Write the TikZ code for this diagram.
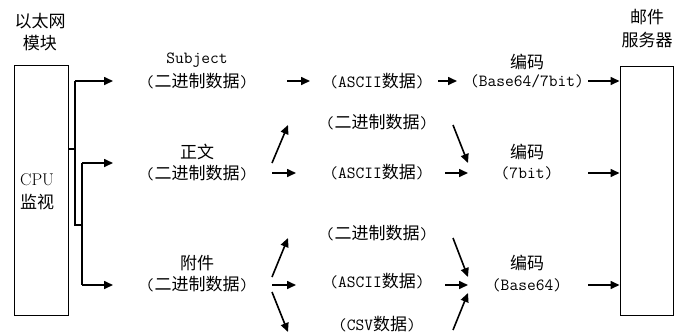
\documentclass[tikz,border=0pt]{standalone}
\usepackage{fontspec}
\newfontfamily\cjk{Noto Sans CJK SC}
\newcommand{\zh}[1]{{\cjk\fontsize{17}{20}\selectfont #1}}
\usetikzlibrary{arrows.meta}
\begin{document}
\begin{tikzpicture}[x=1pt,y=-1pt,
  txt/.style={inner sep=0pt, font=\ttfamily\fontsize{17}{20}\selectfont},
  box/.style={draw, line width=1pt, inner sep=0pt},
  ln/.style={line width=1.6pt},
  arr/.style={line width=1.6pt, -{Triangle[length=9pt,width=8pt]}}]
\useasboundingbox (0,0) rectangle (675,333);
% boxes
\node[box, minimum width=54pt, minimum height=250pt] (eth) at (41,190) {};
\node[box, minimum width=53pt, minimum height=249pt] (srv) at (646.5,190.5) {};
% titles
\node[txt] (eth1) at (40,21) {\zh{以太网}};
\node[txt] (eth2) at (40,43) {\zh{模块}};
\node[txt] (srv1) at (647,17) {\zh{邮件}};
\node[txt] (srv2) at (647,40) {\zh{服务器}};
\node[txt, anchor=west] (cpu1) at (20,180) {\rmfamily CPU};
\node[txt, anchor=west] (cpu2) at (20,202) {\zh{监视}};
% column 1
\node[txt] (subj) at (197,60) {Subject};
\node[txt] (subjB) at (197,81) {(\zh{二进制数据})};
\node[txt] (body) at (197,152) {\zh{正文}};
\node[txt] (bodyB) at (197,173) {(\zh{二进制数据})};
\node[txt] (att) at (197,263) {\zh{附件}};
\node[txt] (attB) at (197,284) {(\zh{二进制数据})};
% column 2
\node[txt] (asc1) at (377,81) {(ASCII\zh{数据})};
\node[txt] (bin2) at (377,122) {(\zh{二进制数据})};
\node[txt] (asc2) at (377,172) {(ASCII\zh{数据})};
\node[txt] (bin3) at (377,233) {(\zh{二进制数据})};
\node[txt] (asc3) at (377,281) {(ASCII\zh{数据})};
\node[txt] (csv) at (377,324) {(CSV\zh{数据})};
% column 3
\node[txt] (enc1) at (527,62) {\zh{编码}};
\node[txt] (enc1b) at (527,81) {(Base64/7bit)};
\node[txt] (enc2) at (527,152) {\zh{编码}};
\node[txt] (enc2b) at (527,173) {(7bit)};
\node[txt] (enc3) at (527,263) {\zh{编码}};
\node[txt] (enc3b) at (527,285) {(Base64)};
% left tree
\coordinate (j0) at (75,149);
\coordinate (j1) at (75,81);
\coordinate (j2) at (75,225);
\coordinate (k0) at (82,225);
\coordinate (k1) at (82,163);
\coordinate (k2) at (82,285);
\coordinate (e1) at (113,81);
\coordinate (e2) at (113,163);
\coordinate (e3) at (113,285);
\draw[ln] (eth.east |- j0) -- (j0);
\draw[ln] (j1) -- (j2) -- (k0);
\draw[ln] (k1) -- (k2);
\draw[arr] (j1) -- (e1);
\draw[arr] (k1) -- (e2);
\draw[arr] (k2) -- (e3);
% middle arrows
\coordinate (m1s) at (287,81);  \coordinate (m1e) at (310,81);
\coordinate (m2d) at (272,163); \coordinate (m2u) at (288,125);
\coordinate (m2s) at (272,173); \coordinate (m2e) at (296,173);
\coordinate (m3d) at (272,277); \coordinate (m3u) at (288,238);
\coordinate (m3s) at (272,285); \coordinate (m3e) at (296,285);
\coordinate (m3a) at (272,292); \coordinate (m3b) at (288,332);
\draw[arr] (m1s) -- (m1e);
\draw[arr] (m2d) -- (m2u);
\draw[arr] (m2s) -- (m2e);
\draw[arr] (m3d) -- (m3u);
\draw[arr] (m3s) -- (m3e);
\draw[arr] (m3a) -- (m3b);
% right arrows
\coordinate (r1s) at (438,81);  \coordinate (r1e) at (457,81);
\coordinate (r2a) at (453,125); \coordinate (r2b) at (468,163);
\coordinate (r2s) at (445,173); \coordinate (r2e) at (468,173);
\coordinate (r3a) at (453,238); \coordinate (r3b) at (468,277);
\coordinate (r3s) at (445,285); \coordinate (r3e) at (468,285);
\coordinate (r3c) at (453,330); \coordinate (r3d) at (468,293);
\draw[arr] (r1s) -- (r1e);
\draw[arr] (r2a) -- (r2b);
\draw[arr] (r2s) -- (r2e);
\draw[arr] (r3a) -- (r3b);
\draw[arr] (r3s) -- (r3e);
\draw[arr] (r3c) -- (r3d);
\coordinate (s1) at (588,81);
\coordinate (s2) at (588,173);
\coordinate (s3) at (588,285);
\draw[arr] (s1) -- (srv.west |- s1);
\draw[arr] (s2) -- (srv.west |- s2);
\draw[arr] (s3) -- (srv.west |- s3);
\end{tikzpicture}
\end{document}
